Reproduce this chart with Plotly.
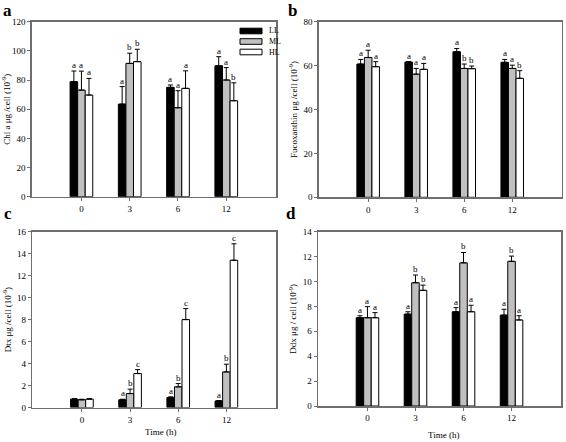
import plotly.graph_objects as go

W, H = 566, 442

times = ["0", "3", "6", "12"]
groups = ["LL", "ML", "HL"]
colors = {"LL": "#000000", "ML": "#c0c0c0", "HL": "#ffffff"}

# Panel a: Chl a
chl_val = {"LL": [78.9, 63.5, 75.0, 89.8], "ML": [73.1, 91.4, 61.0, 80.0], "HL": [69.7, 92.6, 74.3, 65.8]}
chl_err = {"LL": [7.3, 12.0, 1.6, 6.2], "ML": [13.0, 7.0, 11.7, 8.5], "HL": [11.4, 8.5, 12.0, 12.3]}
chl_let = {"LL": ["a", "a", "a", "a"], "ML": ["a", "b", "a", "a"], "HL": ["a", "b", "a", "b"]}

# Panel b: Fucoxanthin
fuc_val = {"LL": [60.7, 61.6, 66.3, 61.5], "ML": [63.7, 56.1, 58.7, 58.7], "HL": [59.5, 58.3, 58.6, 54.2]}
fuc_err = {"LL": [2.1, 0.2, 1.5, 1.3], "ML": [3.3, 2.6, 2.0, 1.5], "HL": [2.3, 2.7, 1.2, 3.5]}
fuc_let = {"LL": ["a", "a", "a", "a"], "ML": ["a", "a", "b", "a"], "HL": ["a", "a", "b", "b"]}

# Panel c: Dtx
dtx_val = {"LL": [0.76, 0.70, 0.90, 0.60], "ML": [0.70, 1.27, 1.88, 3.24], "HL": [0.76, 3.09, 8.0, 13.4]}
dtx_err = {"LL": [0.05, 0.05, 0.07, 0.03], "ML": [0.05, 0.40, 0.30, 0.70], "HL": [0.05, 0.36, 1.0, 1.5]}
dtx_let = {"LL": ["", "a", "a", "a"], "ML": ["", "b", "b", "b"], "HL": ["", "c", "c", "c"]}

# Panel d: Ddx
ddx_val = {"LL": [7.09, 7.38, 7.57, 7.30], "ML": [7.09, 9.90, 11.50, 11.62], "HL": [7.09, 9.29, 7.57, 6.91]}
ddx_err = {"LL": [0.16, 0.19, 0.33, 0.47], "ML": [0.89, 0.62, 0.83, 0.42], "HL": [0.41, 0.42, 0.52, 0.34]}
ddx_let = {"LL": ["a", "a", "a", "a"], "ML": ["a", "b", "b", "b"], "HL": ["a", "b", "a", "a"]}

panels = [
    dict(val=chl_val, err=chl_err, let=chl_let, ymax=120, dtick=20,
         title="Chl a μg /cell (10<sup>-9</sup>)", box=(31.7, 276, 21.7, 196.7), xtitle=None),
    dict(val=fuc_val, err=fuc_err, let=fuc_let, ymax=80, dtick=20,
         title="Fucoxanthin μg /cell (10<sup>-9</sup>)", box=(318.7, 561.7, 21.7, 197.3), xtitle=None),
    dict(val=dtx_val, err=dtx_err, let=dtx_let, ymax=16, dtick=2,
         title="Dtx μg /cell (10<sup>-9</sup>)", box=(32.3, 276, 231.7, 407.5), xtitle=("Time (h)", 160, 432)),
    dict(val=ddx_val, err=ddx_err, let=ddx_let, ymax=14, dtick=2,
         title="Ddx μg / cell (10<sup>-9</sup>)", box=(318, 561, 231.7, 406), xtitle=("Time (h)", 443, 435)),
]

FONT = "Liberation Serif, Times New Roman, serif"
fig = go.Figure()
xpos = list(range(len(times)))
group_width = 0.47
bw = group_width / 3
annotations = []
shapes = []
layout = {}

for i, p in enumerate(panels):
    n = "" if i == 0 else str(i + 1)
    xa, ya = "x" + n, "y" + n
    x0, x1, y0, y1 = p["box"]
    for j, g in enumerate(groups):
        fig.add_trace(go.Bar(
            x=xpos, y=p["val"][g], name=g, xaxis=xa, yaxis=ya,
            marker=dict(color=colors[g], line=dict(color="black", width=1)),
            error_y=dict(type="data", array=p["err"][g], arrayminus=[0] * 4, symmetric=False,
                         color="black", thickness=1, width=2.5),
            showlegend=False,
        ))
        off = (j - 1) * bw
        for k in range(len(times)):
            t = p["let"][g][k]
            if t:
                annotations.append(dict(
                    x=xpos[k] + off, y=p["val"][g][k] + p["err"][g][k], xref=xa, yref=ya,
                    text=t, showarrow=False, yanchor="bottom", yshift=-1,
                    font=dict(size=9, family=FONT, color="#000000")))
    axis_line = dict(showline=True, linecolor="#6e6e6e", linewidth=1.5, mirror=True, automargin=False)
    layout["xaxis" + n] = dict(
        domain=[x0 / W, x1 / W], anchor=ya, range=[-1.03, 4.03],
        tickmode="array", tickvals=xpos, ticktext=times, ticks="outside", ticklen=3,
        tickcolor="#6e6e6e", showgrid=False, zeroline=False,
        tickfont=dict(size=9, family=FONT, color="black"),
        **axis_line)
    layout["yaxis" + n] = dict(
        domain=[1 - y1 / H, 1 - y0 / H], anchor=xa, range=[0, p["ymax"]], dtick=p["dtick"],
        ticks="outside", ticklen=3, tickcolor="#6e6e6e", showgrid=False, zeroline=False,
        tickfont=dict(size=9, family=FONT, color="black"),
        title=dict(text=p["title"], font=dict(size=9, family=FONT, color="black"), standoff=4),
        **axis_line)
    if p["xtitle"]:
        txt, tx, ty = p["xtitle"]
        annotations.append(dict(x=tx / W, y=1 - ty / H, xref="paper", yref="paper", text=txt,
                                showarrow=False, xanchor="center", yanchor="middle",
                                font=dict(size=9, family=FONT, color="black")))

for lab, (px, py) in zip(["a", "b", "c", "d"], [(7, 10), (292, 10), (8, 213), (291, 213)]):
    annotations.append(dict(x=px / W, y=1 - py / H, xref="paper", yref="paper", text="<b>" + lab + "</b>",
                            showarrow=False, xanchor="center", yanchor="middle",
                            font=dict(size=17, family=FONT, color="black")))

# custom legend (panel a)
for j, g in enumerate(groups):
    cy = 31 + j * 10.5
    shapes.append(dict(type="rect", xref="paper", yref="paper",
                       x0=240 / W, x1=262 / W, y0=1 - (cy + 2.8) / H, y1=1 - (cy - 2.8) / H,
                       fillcolor=colors[g], line=dict(color="black", width=1)))
    annotations.append(dict(x=267 / W, y=1 - cy / H, xref="paper", yref="paper", text=g,
                            showarrow=False, xanchor="left", yanchor="middle",
                            font=dict(size=8, family=FONT, color="black")))

fig.update_layout(
    template="none",
    width=W, height=H, margin=dict(l=0, r=0, t=0, b=0),
    paper_bgcolor="white", plot_bgcolor="white",
    barmode="group", bargap=1 - group_width, bargroupgap=0,
    annotations=annotations, shapes=shapes, showlegend=False, hovermode=False,
    **layout,
)

fig.write_html("out.html", config={"displayModeBar": False, "staticPlot": True},
               post_script="document.body.style.margin='0';document.body.style.overflow='hidden';")
